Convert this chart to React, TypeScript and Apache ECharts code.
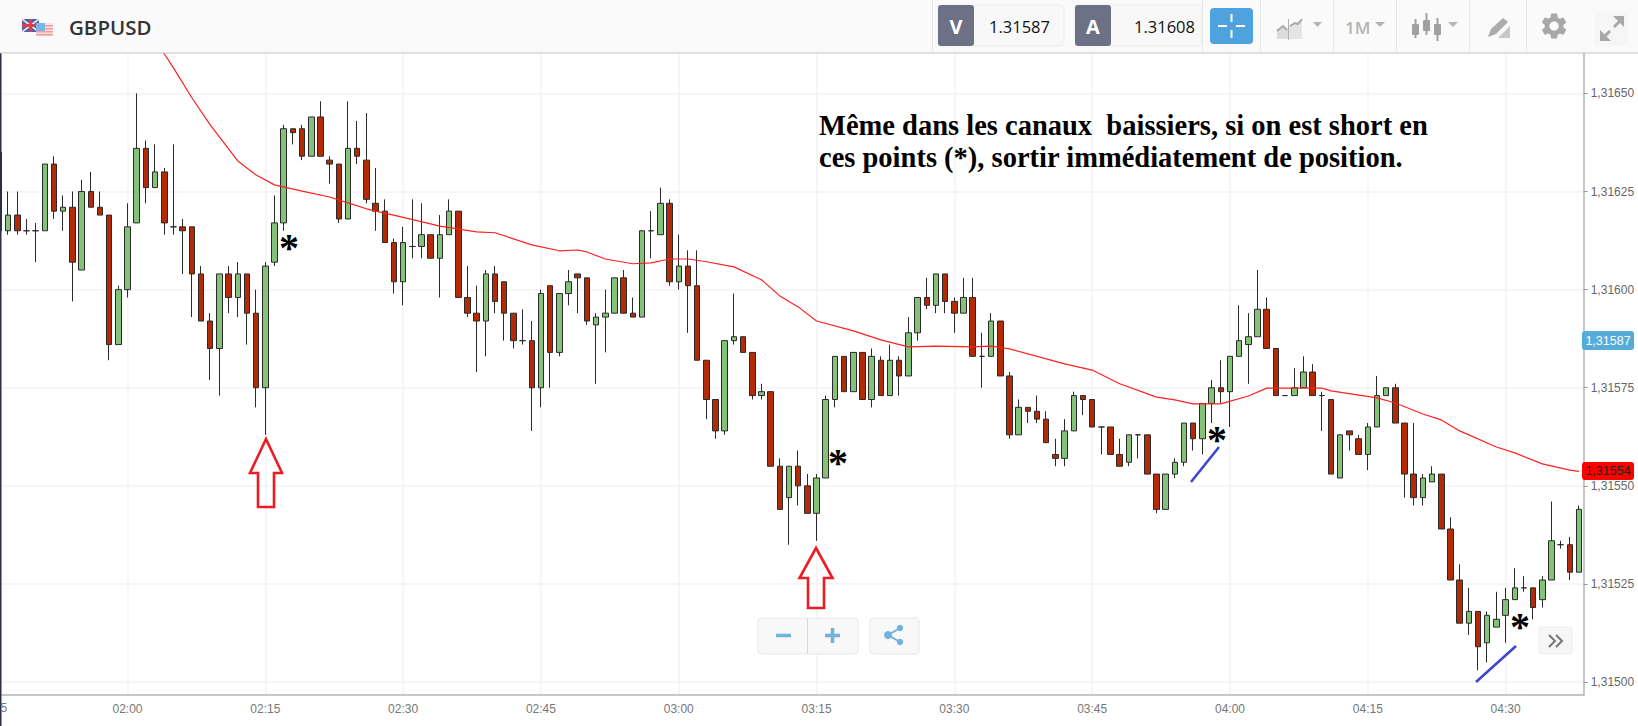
import React, { useEffect, useRef } from "react";
import * as echarts from "echarts";

// Prices are stored as points (0.00001) above BASE_PRICE; one candle per minute, first one at 01:46.
const BASE_PRICE = 1.315;
const FIRST_MINUTE = 1 * 60 + 46;

const opens = [
  135,115,119,115,115,115,132,120,121,105,
  125,121,119,86,100,117,136,126,130,116,
  116,116,104,92,85,104,98,104,94,75,
  107,117,141,141,134,144,133,132,118,136,
  133,122,120,112,102,111,111,114,108,114,
  120,98,94,92,104,102,94,87,87,75,
  101,84,99,104,103,91,93,94,103,94,
  93,115,114,122,102,106,101,82,72,64,
  87,88,84,73,74,55,47,55,50,43,
  52,72,83,74,84,72,82,73,82,78,
  89,98,96,104,97,94,98,83,83,92,
  78,63,70,69,67,58,57,64,73,72,
  65,65,58,56,63,63,53,44,53,56,
  66,62,71,75,74,83,86,88,95,85,
  73,73,75,79,73,72,52,64,62,58,
  65,73,75,66,53,47,51,53,39,26,
  15,18,10,14,17,21,24,24,21,26,
  35,35,28,
];
const closes = [
  115,119,115,115,115,132,120,121,107,125,
  121,119,86,100,116,136,126,130,117,116,
  115,104,92,85,104,98,104,94,75,106,
  117,141,140,134,144,134,132,118,136,134,
  123,120,112,102,112,111,114,108,114,120,
  98,94,92,104,97,94,87,87,75,99,
  84,99,102,103,92,93,94,103,94,93,
  115,115,122,102,106,101,82,72,64,87,
  88,84,73,74,55,44,55,50,43,52,
  72,83,74,84,72,83,73,82,78,89,
  98,96,104,97,94,98,83,83,92,78,
  63,70,69,67,61,57,64,73,72,65,
  65,58,55,63,63,53,44,53,56,66,
  62,71,75,74,83,87,88,95,85,73,
  73,75,79,73,73,53,63,63,58,65,
  73,75,66,53,47,52,53,39,26,15,
  18,9,17,16,21,24,24,19,26,36,
  35,28,44,
];
const lows = [
  115,114,114,114,107,115,118,115,97,105,
  121,119,82,86,98,117,122,126,114,114,
  104,93,92,77,73,94,93,86,70,63,
  106,115,137,133,134,134,127,117,118,132,
  122,115,112,99,96,108,108,108,98,114,
  98,93,79,83,94,87,85,86,64,70,
  75,83,96,94,91,76,84,94,94,93,
  93,108,114,101,100,89,82,67,62,63,
  86,84,72,72,55,44,35,45,43,36,
  52,70,74,74,72,70,73,73,73,78,
  87,95,94,94,89,94,83,75,83,78,
  62,63,66,66,61,55,55,64,68,65,
  58,58,55,55,57,53,43,44,52,55,
  59,58,66,71,65,83,76,88,85,73,
  73,73,75,73,64,53,52,59,58,54,
  65,73,66,47,45,45,51,39,26,15,
  12,3,5,14,10,21,23,16,19,26,
  34,26,28,
];
const highs = [
  135,125,125,118,117,132,134,124,125,128,
  130,125,119,101,122,150,138,137,131,137,
  118,116,106,94,104,106,107,104,100,107,
  124,142,141,142,144,148,134,132,148,143,
  145,131,123,113,116,123,122,114,119,123,
  120,106,101,105,106,102,94,95,92,100,
  101,99,105,104,103,94,100,103,105,98,
  115,120,126,123,114,110,110,82,72,87,
  99,88,84,76,74,57,55,59,53,53,
  73,83,83,84,84,85,83,86,83,93,
  98,103,104,104,98,103,103,89,94,92,
  79,72,70,73,69,62,67,74,73,72,
  65,65,62,63,63,63,53,53,57,66,
  66,71,77,82,83,96,94,105,98,85,
  73,80,83,81,74,72,63,64,63,66,
  78,75,76,66,66,53,55,53,42,30,
  24,18,18,23,24,29,27,24,27,46,
  36,37,45,
];

// Moving average read at selected minutes after 02:00, and its level in points above BASE_PRICE.
const maMinutes = [
  3,4,5,7,9,12,14,16,19,22,24,26,30,34,38,40,44,47,49,50,
  52,55,57,59,61,63,66,69,71,73,75,79,82,85,88,92,94,96,102,105,
  108,112,114,116,119,122,124,130,131,136,138,141,143,145,149,151,154,157,158,
];
const maPoints = [
  162.9,160.1,156.5,148.9,142,132.8,129.2,126.7,125.1,123.6,122.1,120.6,118.4,116.2,114.7,114.5,111.4,109.9,110.1,109.6,
  107.8,106.6,106.8,107.8,107.8,107.1,105.8,102.5,98.4,95.6,92,89.5,87.2,85.4,85.6,85.4,85.6,84.9,81.1,79.5,
  76,72.6,71.9,70.9,70.9,72.9,74.9,74.9,74.2,72.4,71.1,68.3,66.8,64,59.9,58.4,55.6,54,53.7,
];

const priceTicks = [1.315, 1.31525, 1.3155, 1.31575, 1.316, 1.31625, 1.3165];
const bidPrice = "1.31587";
const askPrice = "1.31608";
const bidTag = "1,31587";
const maTag = "1,31554";
const noteLines = ["Même dans les canaux  baissiers, si on est short en", "ces points (*), sortir immédiatement de position."];

const toPrice = (p: number) => +(BASE_PRICE + p / 100000).toFixed(6);
const categories = opens.map((_, i) => {
  const m = FIRST_MINUTE + i;
  return String(Math.floor(m / 60)).padStart(2, "0") + ":" + String(m % 60).padStart(2, "0");
});
const candles = opens.map((o, i) => [toPrice(o), toPrice(closes[i]), toPrice(lows[i]), toPrice(highs[i])]);
const firstToTwo = 2 * 60 - FIRST_MINUTE;
const maSeries = maMinutes.map((m, i) => [m + firstToTwo, toPrice(maPoints[i])]);

const isQuarter = (index: number) => (FIRST_MINUTE + index) % 15 === 0;

const GEAR =
  "M19.14 12.94c.04-.3.06-.61.06-.94 0-.32-.02-.64-.07-.94l2.03-1.58c.18-.14.23-.41.12-.61l-1.92-3.32c-.12-.22-.37-.29-.59-.22l-2.39.96c-.5-.38-1.03-.7-1.62-.94l-.36-2.54c-.04-.24-.24-.41-.48-.41h-3.84c-.24 0-.43.17-.47.41l-.36 2.54c-.59.24-1.13.57-1.62.94l-2.39-.96c-.22-.08-.47 0-.59.22L2.74 8.87c-.12.21-.08.47.12.61l2.03 1.58c-.05.3-.09.63-.09.94s.02.64.07.94l-2.03 1.58c-.18.14-.23.41-.12.61l1.92 3.32c.12.22.37.29.59.22l2.39-.96c.5.38 1.03.7 1.62.94l.36 2.54c.05.24.24.41.48.41h3.84c.24 0 .44-.17.47-.41l.36-2.54c.59-.24 1.13-.56 1.62-.94l2.39.96c.22.08.47 0 .59-.22l1.92-3.32c.12-.22.07-.47-.12-.61l-2.01-1.58zM12 15.6c-1.98 0-3.6-1.62-3.6-3.6s1.62-3.6 3.6-3.6 3.6 1.62 3.6 3.6-1.62 3.6-3.6 3.6z";

const rect = (x: number, y: number, w: number, h: number, fill: string, r = 0, stroke?: string) => ({
  type: "rect",
  shape: { x, y, width: w, height: h, r },
  style: { fill, stroke: stroke || undefined, lineWidth: stroke ? 1 : 0 },
  silent: true,
});
const line = (x1: number, y1: number, x2: number, y2: number, stroke: string, lineWidth = 1) => ({
  type: "line",
  shape: { x1, y1, x2, y2 },
  style: { stroke, lineWidth, lineCap: "butt" },
  silent: true,
});
const poly = (points: number[][], fill: string) => ({
  type: "polygon",
  shape: { points },
  style: { fill },
  silent: true,
});
const outline = (points: number[][], stroke: string, lineWidth: number) => ({
  type: "polygon",
  shape: { points },
  style: { fill: "none", stroke, lineWidth, lineJoin: "miter" },
  silent: true,
});
const txt = (text: string, x: number, y: number, font: string, fill: string, align = "left") => ({
  type: "text",
  x,
  y,
  style: { text, font, fill, textAlign: align, textVerticalAlign: "middle" },
  silent: true,
});
const upArrow = (cx: number, tip: number, base: number, bottom: number, hw: number, sw: number) =>
  outline(
    [[cx, tip], [cx + hw, base], [cx + sw, base], [cx + sw, bottom], [cx - sw, bottom], [cx - sw, base], [cx - hw, base]],
    "#ed1c24",
    2.6
  );

const ICON = "#b4b4b4";
const toolbar: any[] = [
  rect(0, 0, 1638, 53, "#fafafa"),
  line(0, 53, 1638, 53, "#c4c4c4", 1),
  // flags
  rect(22, 19, 17, 13, "#4c5f9e"),
  line(22, 19, 39, 32, "#f0d8dc", 2),
  line(39, 19, 22, 32, "#f0d8dc", 2),
  line(30.5, 19, 30.5, 32, "#d9404f", 3),
  line(22, 25.5, 39, 25.5, "#d9404f", 3),
  rect(36, 23, 17, 13, "#fbe3e3"),
  rect(36, 25, 17, 1.5, "#f29b9b"),
  rect(36, 28, 17, 1.5, "#f29b9b"),
  rect(36, 31, 17, 1.5, "#f29b9b"),
  rect(36, 34, 17, 1.5, "#f29b9b"),
  rect(36, 23, 9, 8, "#76b6ea"),
  txt("GBPUSD", 69, 26.5, '600 20.5px "Open Sans"', "#333333"),
  // separators
  ...[932, 1202, 1260, 1333, 1396, 1469, 1526].map((x) => line(x + 0.5, 0, x + 0.5, 53, "#e6e6e6", 1)),
  // bid / ask
  rect(938, 5, 126, 41, "#f8f8f8", 3, "#eeeeee"),
  rect(938, 5, 36, 41, "#6d7186", 3),
  txt("V", 956, 26, 'bold 20px "Open Sans"', "#ffffff", "center"),
  txt(bidPrice, 1050, 26, '16.5px "Open Sans"', "#111111", "right"),
  rect(1075, 5, 126, 41, "#f8f8f8", 3, "#eeeeee"),
  rect(1075, 5, 36, 41, "#6d7186", 3),
  txt("A", 1093, 26, 'bold 20px "Open Sans"', "#ffffff", "center"),
  txt(askPrice, 1195, 26, '16.5px "Open Sans"', "#111111", "right"),
  // crosshair button
  rect(1210, 8, 43, 36, "#4ea3de", 4),
  line(1218, 26, 1227, 26, "#ffffff", 2),
  line(1236, 26, 1245, 26, "#ffffff", 2),
  line(1231.5, 14, 1231.5, 22, "#ffffff", 2),
  line(1231.5, 30, 1231.5, 38, "#ffffff", 2),
  // chart type icon
  poly([[1277, 39], [1277, 30], [1283, 26], [1288, 30], [1288, 39]], "#dcdcdc"),
  poly([[1289, 39], [1289, 26], [1295, 24], [1302, 19], [1302, 39]], "#e4e4e4"),
  { type: "polyline", shape: { points: [[1277, 31], [1283, 26], [1287, 30]] }, style: { stroke: "#a8a8a8", lineWidth: 2, fill: "none" }, silent: true },
  { type: "polyline", shape: { points: [[1290, 26], [1295, 23], [1298, 24], [1302, 19]] }, style: { stroke: "#a8a8a8", lineWidth: 2, fill: "none" }, silent: true },
  line(1288.5, 19, 1288.5, 40, "#b0b0b0", 1),
  poly([[1313, 22], [1322, 22], [1317.5, 27]], ICON),
  // period
  txt("1M", 1345, 27, '600 17px "Open Sans"', ICON),
  poly([[1375, 22], [1385, 22], [1380, 27]], ICON),
  // candle icon
  line(1415.5, 19, 1415.5, 38, "#a0a0a0", 2),
  rect(1412, 24, 7, 11, "#a0a0a0", 1),
  line(1426.5, 13, 1426.5, 35, "#a0a0a0", 2),
  rect(1423, 20, 7, 11, "#a0a0a0", 1),
  line(1437.5, 18, 1437.5, 41, "#a0a0a0", 2),
  rect(1434, 24, 7, 11, "#a0a0a0", 1),
  poly([[1448, 22], [1458, 22], [1453, 27]], ICON),
  // drawing tools icon
  poly([[1488, 37], [1491, 29], [1503, 18], [1508, 22], [1496, 34]], "#ababab"),
  poly([[1498, 38], [1510, 26], [1510, 38]], "#c8c8c8"),
  // settings
  { type: "gearIcon", x: 1538.5, y: 10.5, scaleX: 1.3, scaleY: 1.3, style: { fill: "#a8a8a8" }, silent: true },
  // expand
  rect(1595, 11, 33, 35, "#f6f6f6"),
  line(1604, 37, 1610, 31, "#a8a8a8", 3),
  poly([[1600, 41], [1600, 30], [1611, 41]], "#a8a8a8"),
  line(1614, 27, 1620, 21, "#a8a8a8", 3),
  poly([[1624, 16], [1613, 16], [1624, 27]], "#a8a8a8"),
];

const overlays: any[] = [
  rect(0, 0, 1.5, 726, "#2b3048"),
  // note
  txt(noteLines[0], 819, 125, 'bold 28.5px "Liberation Serif"', "#000000"),
  txt(noteLines[1], 819, 157, 'bold 28.5px "Liberation Serif"', "#000000"),
  // asterisks
  ...[[289, 244], [838, 459], [1217, 436], [1520, 623]].map(([x, y]) =>
    txt("*", x, y + 3.5, 'bold 40px "Liberation Serif"', "#000000", "center")
  ),
  // arrows
  upArrow(266, 439, 473, 507, 16, 8),
  upArrow(816, 548, 578, 608, 16.5, 8),
  // blue trend strokes
  line(1191, 482, 1219, 447, "#3f48cc", 2.6),
  line(1476, 682, 1516, 646, "#3f48cc", 2.6),
  // price tags
  rect(1582, 331, 52, 19, "#55acd9", 3),
  txt(bidTag, 1608, 340.5, '12.5px "Liberation Sans"', "#ffffff", "center"),
  rect(1582, 462, 52, 18, "#ff0000", 3),
  txt(maTag, 1608, 471, '12.5px "Liberation Sans"', "#222222", "center"),
  // zoom controls
  rect(758, 618, 100, 36, "#f8f8f8", 3, "#e8e8e8"),
  line(807.5, 618, 807.5, 654, "#d8d8d8", 1),
  line(776, 635.5, 791, 635.5, "#6fb3de", 3.5),
  line(825, 635.5, 840, 635.5, "#6fb3de", 3.5),
  line(832.5, 628, 832.5, 643, "#6fb3de", 3.5),
  rect(870, 618, 49, 36, "#f8f8f8", 3, "#e8e8e8"),
  line(888, 635, 900, 628, "#6fb3de", 2),
  line(888, 635, 900, 642, "#6fb3de", 2),
  { type: "circle", shape: { cx: 888, cy: 635, r: 4 }, style: { fill: "#6fb3de" }, silent: true },
  { type: "circle", shape: { cx: 900, cy: 628, r: 3.2 }, style: { fill: "#6fb3de" }, silent: true },
  { type: "circle", shape: { cx: 900, cy: 642, r: 3.2 }, style: { fill: "#6fb3de" }, silent: true },
  // next button
  rect(1539, 627, 33, 27, "#f6f6f6", 3, "#ececec"),
  { type: "polyline", shape: { points: [[1549, 635], [1555, 641], [1549, 647]] }, style: { stroke: "#777777", lineWidth: 2, fill: "none" }, silent: true },
  { type: "polyline", shape: { points: [[1556, 635], [1562, 641], [1556, 647]] }, style: { stroke: "#777777", lineWidth: 2, fill: "none" }, silent: true },
  // visible end of the previous time label
  txt("5", 0.5, 708, '12px "Liberation Sans"', "#777777"),
];

export default function App() {
  const ref = useRef<HTMLDivElement>(null);
  useEffect(() => {
    echarts.graphic.registerShape("gearIcon", echarts.graphic.extendPath(GEAR, {}));
    const chart = echarts.init(ref.current!, null, { renderer: "svg" });
    chart.setOption({
      animation: false,
      backgroundColor: "#ffffff",
      grid: { left: -5.7, right: 54.3, top: 53, bottom: 31, containLabel: false, outerBoundsMode: "none" },
      xAxis: {
        type: "category",
        data: categories,
        boundaryGap: true,
        axisLine: { lineStyle: { color: "#b4b4b4", width: 1.5 } },
        axisTick: { alignWithLabel: true, interval: (i: number) => isQuarter(i), length: 4, lineStyle: { color: "#999999" } },
        axisLabel: {
          interval: (i: number) => isQuarter(i),
          color: "#777777",
          fontSize: 12,
          fontFamily: "Liberation Sans",
          margin: 8,
        },
        splitLine: { show: true, alignWithLabel: true, interval: (i: number) => isQuarter(i), lineStyle: { color: "#f3f3f3", width: 1.5 } },
      },
      yAxis: {
        type: "value",
        position: "right",
        scale: true,
        min: toPrice(-3.31),
        max: toPrice(160.34),
        axisLine: { show: true, lineStyle: { color: "#b4b4b4", width: 1.5 } },
        axisTick: { show: true, length: 4, customValues: priceTicks, lineStyle: { color: "#999999" } },
        axisLabel: {
          customValues: priceTicks,
          color: "#666666",
          fontSize: 12,
          fontFamily: "Liberation Sans",
          margin: 7,
          formatter: (v: number) => v.toFixed(5).replace(".", ","),
        },
        splitLine: { show: true, lineStyle: { color: "#f3f3f3", width: 1.5 } },
      },
      series: [
        {
          type: "candlestick",
          data: candles,
          barWidth: 6,
          clip: true,
          itemStyle: {
            color: "#84c27a",
            color0: "#b22a06",
            borderColor: "#2a2a2a",
            borderColor0: "#2a2a2a",
            borderColorDoji: "#2a2a2a",
            borderWidth: 1,
          },
          silent: true,
        },
        {
          type: "line",
          data: maSeries,
          showSymbol: false,
          clip: true,
          lineStyle: { color: "#ff2020", width: 1.2 },
          silent: true,
          z: 5,
        },
      ],
      graphic: [...overlays, ...toolbar].map((e) => ({ ...e, z: 100 })),
    });
    return () => chart.dispose();
  }, []);
  return <div ref={ref} style={{ position: "fixed", left: 0, top: 0, width: 1638, height: 726 }} />;
}
